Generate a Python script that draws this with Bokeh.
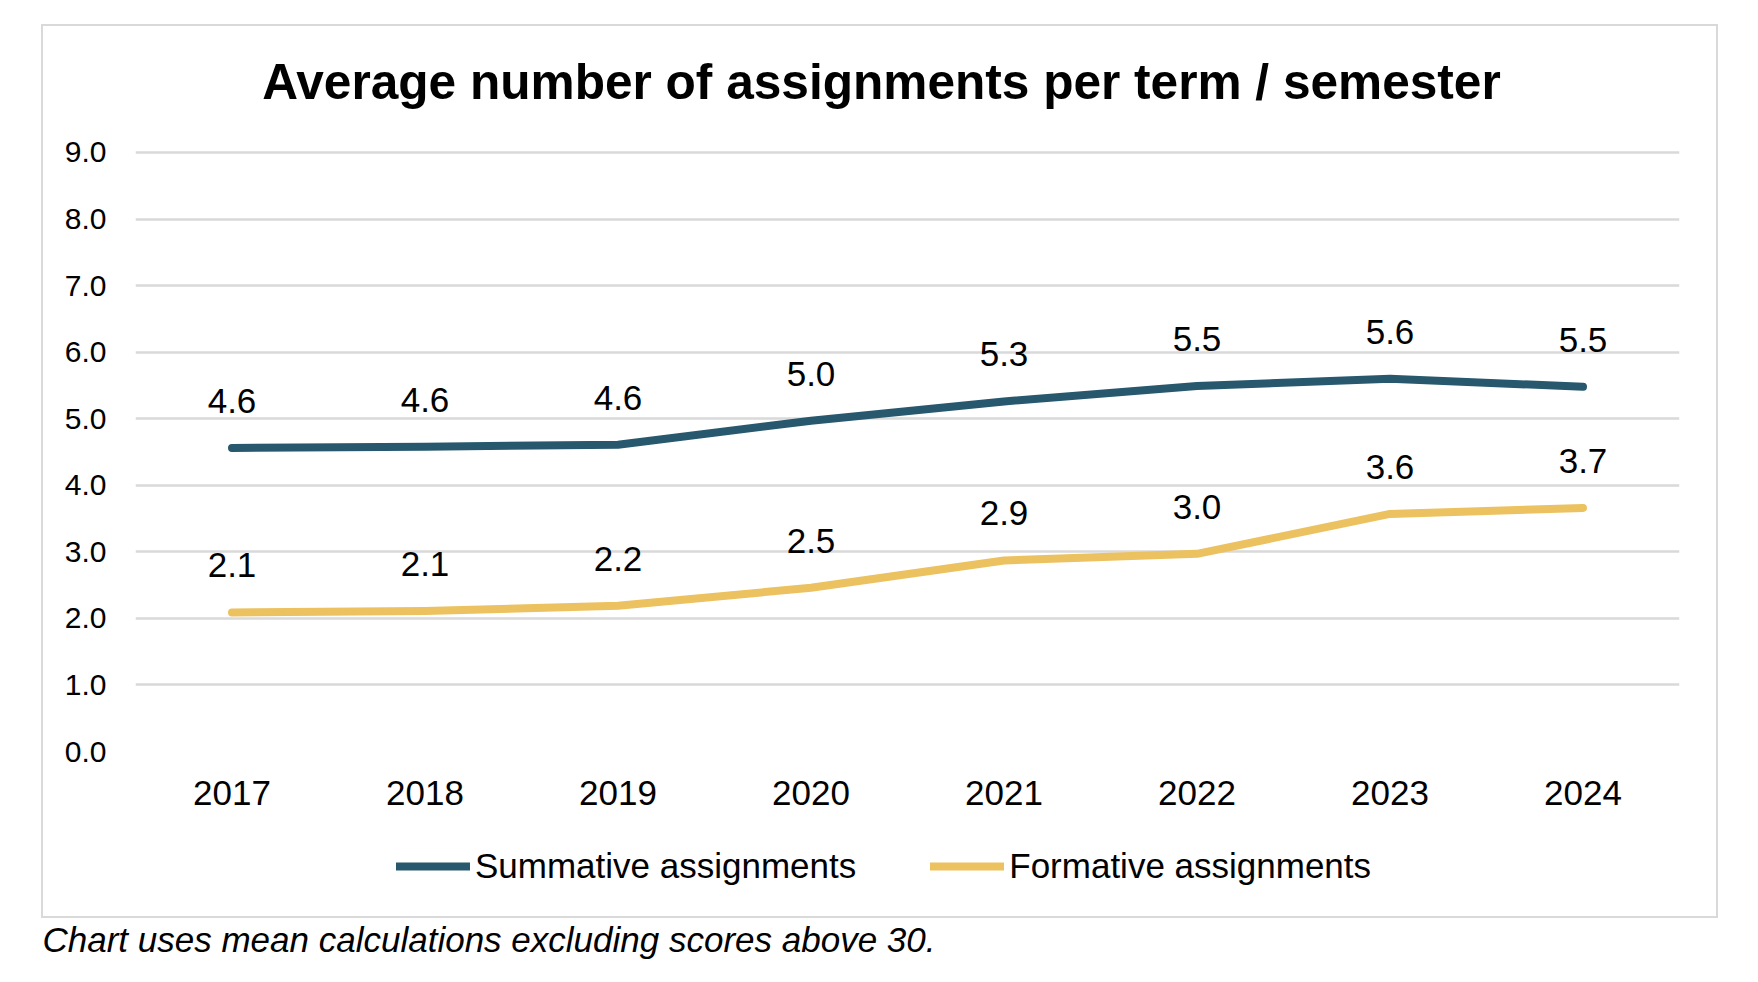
from bokeh.plotting import figure
from bokeh.layouts import column, row
from bokeh.models import (ColumnDataSource, Range1d, FactorRange, LabelSet, Label, Spacer,
                          Legend, LegendItem, FixedTicker, PrintfTickFormatter)
from bokeh.core.properties import value
from bokeh.embed import file_html
from bokeh.resources import INLINE

# ---- data ----
years = ["2017", "2018", "2019", "2020", "2021", "2022", "2023", "2024"]
summative = [4.56, 4.58, 4.61, 4.97, 5.26, 5.49, 5.60, 5.48]
formative = [2.09, 2.11, 2.19, 2.46, 2.87, 2.97, 3.57, 3.66]
y_ticks = [0, 1, 2, 3, 4, 5, 6, 7, 8, 9]
series_names = ["Summative assignments", "Formative assignments"]
title_text = "Average number of assignments per term / semester"
footnote_text = "Chart uses mean calculations excluding scores above 30."

FONT = "Liberation Sans"
C_SUM = "#27586d"
C_FORM = "#ecc15f"
GRID = "#d9d9d9"

# ---- main chart ----
p = figure(width=1673, height=797, title=None,
           x_range=FactorRange(*years), y_range=Range1d(0, 10.893),
           output_backend="svg", toolbar_location=None,
           min_border_left=92, min_border_right=37,
           min_border_top=0, min_border_bottom=72,
           outline_line_color=None,
           background_fill_color="white", border_fill_color="white")

# chart title, in the free space above the 9.0 grid line
p.add_layout(Label(x=746, y=670, x_units="screen", y_units="screen",
                   text=title_text, text_font=FONT, text_font_size="49.6px",
                   text_font_style="bold", text_color="black",
                   text_align="center", text_baseline="alphabetic"))

# y axis
p.yaxis.ticker = FixedTicker(ticks=y_ticks)
p.yaxis.formatter = PrintfTickFormatter(format="%.1f")
p.yaxis.axis_line_color = None
p.yaxis.major_tick_line_color = None
p.yaxis.minor_tick_line_color = None
p.yaxis.major_tick_out = 0
p.yaxis.major_tick_in = 0
p.yaxis.major_label_standoff = 29
p.yaxis.major_label_text_font = FONT
p.yaxis.major_label_text_font_size = "30px"
p.yaxis.major_label_text_color = "black"

# x axis
p.xaxis.axis_line_color = None
p.xaxis.major_tick_line_color = None
p.xaxis.minor_tick_line_color = None
p.xaxis.major_tick_out = 0
p.xaxis.major_tick_in = 0
p.xaxis.major_label_standoff = 29
p.xaxis.major_label_text_font = FONT
p.xaxis.major_label_text_font_size = "35px"
p.xaxis.major_label_text_color = "black"

# grid
p.xgrid.grid_line_color = None
p.ygrid.ticker = FixedTicker(ticks=y_ticks)
p.ygrid.grid_line_color = GRID
p.ygrid.grid_line_width = 2.5

# lines
r1 = p.line(x=years, y=summative, line_width=8, line_color=C_SUM,
            line_cap="round", line_join="round")
r2 = p.line(x=years, y=formative, line_width=8, line_color=C_FORM,
            line_cap="round", line_join="round")

# data labels
for vals in (summative, formative):
    src = ColumnDataSource(dict(x=years, y=vals, t=[f"{v:.1f}" for v in vals]))
    p.add_layout(LabelSet(x="x", y="y", text="t", source=src,
                          text_align="center", text_baseline="alphabetic",
                          y_offset=35, text_font=value(FONT),
                          text_font_size=value("35px"), text_color=value("black")))

# ---- legend strip (inside the same box, under the x axis) ----
lg = figure(width=1673, height=93, title=None,
            x_range=FactorRange(*years), y_range=Range1d(0, 9),
            x_axis_type=None, y_axis_type=None,
            output_backend="svg", toolbar_location=None,
            min_border=0, outline_line_color=None,
            background_fill_color="white", border_fill_color="white")
# same series, hidden here: they only supply the legend swatches
k1 = lg.line(x=years, y=summative, line_width=8, line_color=C_SUM,
             line_cap="round", visible=False)
k2 = lg.line(x=years, y=formative, line_width=8, line_color=C_FORM,
             line_cap="round", visible=False)
legend = Legend(items=[LegendItem(label=series_names[0], renderers=[k1]),
                       LegendItem(label=series_names[1], renderers=[k2])],
                orientation="horizontal", location=(261, 30),
                spacing=74, glyph_width=74, glyph_height=40, label_height=40,
                label_standoff=5, padding=0, margin=0,
                border_line_color=None, background_fill_alpha=0,
                inactive_fill_alpha=0, click_policy="none",
                label_text_font=FONT, label_text_font_size="35px",
                label_text_color="black")
lg.add_layout(legend)

box = column(p, lg, styles={"border": "2px solid #d9d9d9"})

# ---- footnote under the box ----
foot = figure(width=1000, height=56, title=None,
              x_range=Range1d(0, 1), y_range=Range1d(0, 1),
              x_axis_type=None, y_axis_type=None,
              output_backend="svg", toolbar_location=None,
              min_border=0, outline_line_color=None,
              background_fill_color="white", border_fill_color="white")
foot.add_layout(Label(x=0, y=35, x_units="screen", y_units="screen",
                      text=footnote_text, text_font=FONT, text_font_size="35px",
                      text_font_style="italic", text_color="black",
                      text_align="left", text_baseline="alphabetic"))

layout = column(Spacer(height=24),
                row(Spacer(width=41), box),
                row(Spacer(width=42), foot))

open("out.html", "w").write(file_html(layout, INLINE))
